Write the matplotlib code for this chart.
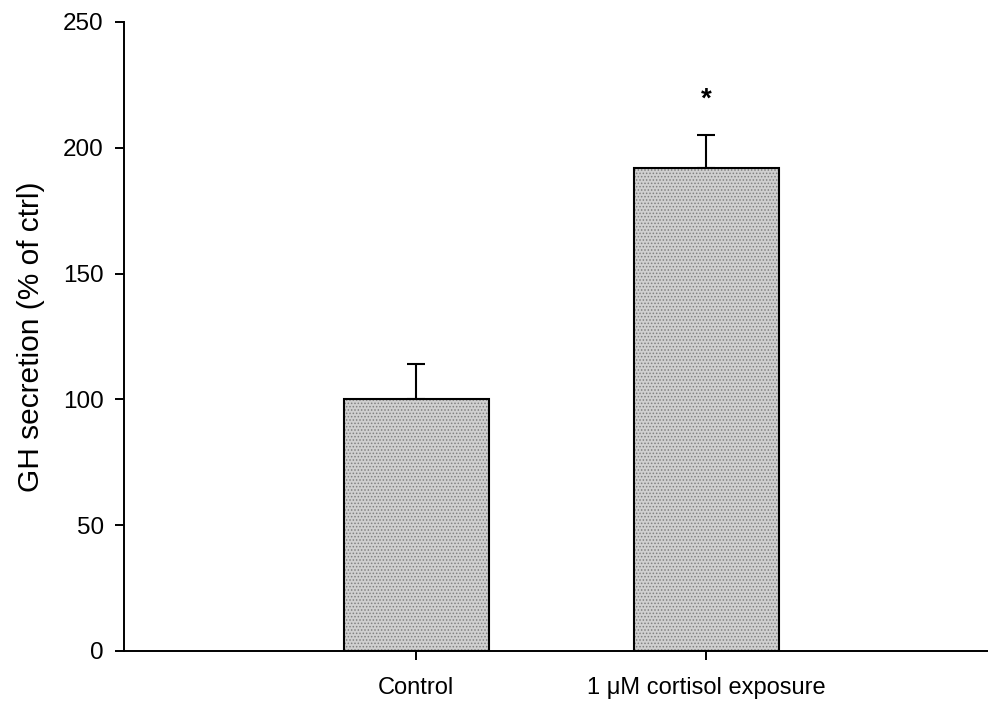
import matplotlib.pyplot as plt
import numpy as np

# values
groups = ['Control', '1 \u03bcM cortisol exposure']
means = [100, 192]
sem = [14, 13]
sig = ['', '*']

plt.rcParams['font.family'] = ['Liberation Sans', 'DejaVu Sans']
plt.rcParams['hatch.color'] = '#707070'
plt.rcParams['hatch.linewidth'] = 0.7

fig = plt.figure(figsize=(9.88, 7.04), dpi=100)
ax = fig.add_axes([0.1255, 0.0753, 0.8745, 0.8935])

x = np.arange(len(groups))
# stippled fill, then black outline on top
ax.bar(x, means, width=0.5, color='#d0d0d0', edgecolor='#808080',
       hatch='.....', linewidth=0, zorder=2)
ax.bar(x, means, width=0.5, color='none', edgecolor='black',
       linewidth=1.5, zorder=3)
ax.errorbar(x, means, yerr=[np.zeros(len(sem)), sem], fmt='none',
            ecolor='black', elinewidth=1.5, capsize=6.8, capthick=1.5,
            zorder=1)

for xi, m, s, t in zip(x, means, sem, sig):
    if t:
        ax.text(xi, m + s + 11.5, t, ha='center', va='baseline',
                fontsize=20, fontweight='bold')

ax.set_xlim(-1.007, 1.972)
ax.set_ylim(0, 250)
ax.set_yticks([0, 50, 100, 150, 200, 250])
ax.set_xticks(x)
ax.set_xticklabels(groups)
ax.set_ylabel('GH secretion (% of ctrl)', fontsize=21.5, labelpad=13)

for side in ['top', 'right']:
    ax.spines[side].set_visible(False)
for side in ['left', 'bottom']:
    ax.spines[side].set_linewidth(1.4)
ax.tick_params(axis='y', length=6.5, width=1.4, pad=8, labelsize=17.5)
ax.tick_params(axis='x', length=6.5, width=1.4, pad=12, labelsize=17)

plt.savefig('out.png', dpi=100)
